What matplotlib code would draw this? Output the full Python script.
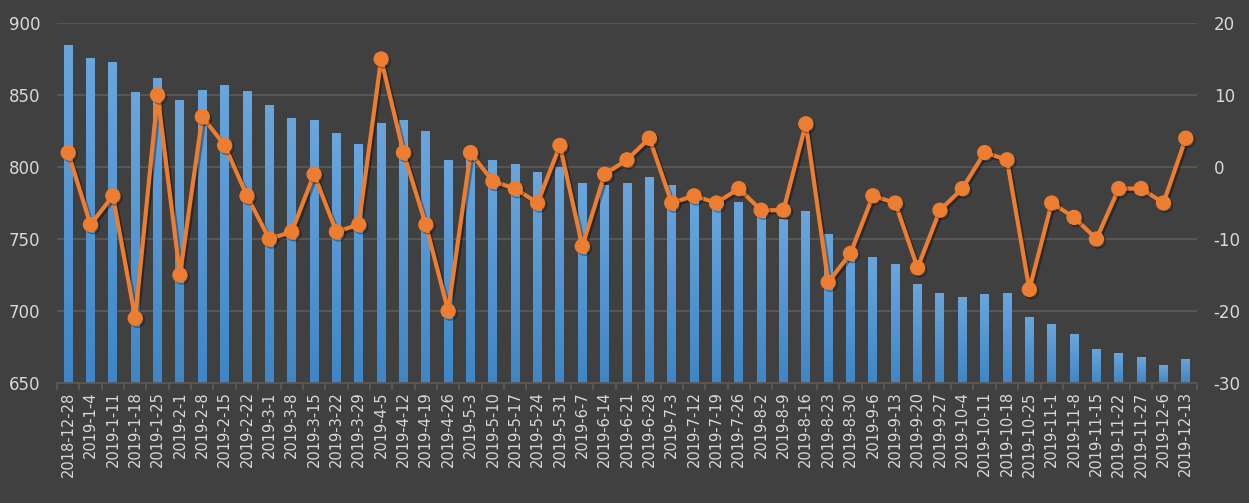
import matplotlib
matplotlib.use("Agg")
import matplotlib.pyplot as plt
import numpy as np
from matplotlib import patheffects as pe
from matplotlib.colors import LinearSegmentedColormap

plt.rcParams["axes.unicode_minus"] = False

dates = ["2018-12-28", "2019-1-4", "2019-1-11", "2019-1-18", "2019-1-25", "2019-2-1",
         "2019-2-8", "2019-2-15", "2019-2-22", "2019-3-1", "2019-3-8", "2019-3-15",
         "2019-3-22", "2019-3-29", "2019-4-5", "2019-4-12", "2019-4-19", "2019-4-26",
         "2019-5-3", "2019-5-10", "2019-5-17", "2019-5-24", "2019-5-31", "2019-6-7",
         "2019-6-14", "2019-6-21", "2019-6-28", "2019-7-3", "2019-7-12", "2019-7-19",
         "2019-7-26", "2019-8-2", "2019-8-9", "2019-8-16", "2019-8-23", "2019-8-30",
         "2019-9-6", "2019-9-13", "2019-9-20", "2019-9-27", "2019-10-4", "2019-10-11",
         "2019-10-18", "2019-10-25", "2019-11-1", "2019-11-8", "2019-11-15", "2019-11-22",
         "2019-11-27", "2019-12-6", "2019-12-13"]

bar_values = [885, 876, 873, 852, 862, 846.5, 853.5, 857, 852.8, 843, 834, 832.6,
              823.6, 816, 830.6, 832.6, 825, 805, 808, 805, 802, 796.5, 800, 789,
              787.5, 789, 793, 787.5, 780, 777, 775.7, 770, 764, 769.4, 753.5, 743,
              737.5, 732.6, 718.7, 712.5, 709.7, 711.8, 712.5, 695.8, 691, 684, 673.6,
              670.8, 668, 662.5, 666.7]

line_values = [2, -8, -4, -21, 10, -15, 7, 3, -4, -10, -9, -1, -9, -8, 15, 2, -8, -20,
               2, -2, -3, -5, 3, -11, -1, 1, 4, -5, -4, -5, -3, -6, -6, 6, -16, -12,
               -4, -5, -14, -6, -3, 2, 1, -17, -5, -7, -10, -3, -3, -5, 4]

bg = "#404040"
grid_c = "#595959"
text_c = "#d9d9d9"

fig = plt.figure(figsize=(12.49, 5.03), dpi=100, facecolor=bg)
ax = fig.add_axes([57 / 1249, 1 - 383 / 503, (1197 - 57) / 1249, (383 - 23) / 503])
ax.set_facecolor(bg)
x = np.arange(len(dates))

bars = ax.bar(x, bar_values, width=0.4, color="#5b9bd5", zorder=2)
grad = np.linspace(0, 1, 256).reshape(-1, 1)
cmap = LinearSegmentedColormap.from_list("b", ["#3f86c6", "#6aa6dd"])
for b in bars:
    im = ax.imshow(grad, cmap=cmap, aspect="auto", origin="lower",
                   extent=[b.get_x(), b.get_x() + b.get_width(), 650, b.get_height()],
                   zorder=2)
    im.set_clip_path(b)

ax.set_xlim(-0.5, len(dates) - 0.5)
ax.set_ylim(650, 900)
ax.set_yticks([650, 700, 750, 800, 850, 900])
ax.yaxis.grid(True, color=grid_c, linewidth=1.3, zorder=0)
ax.set_axisbelow(True)
for s in ["top", "right", "left"]:
    ax.spines[s].set_visible(False)
ax.spines["bottom"].set_color(grid_c)
ax.spines["bottom"].set_linewidth(1.3)
ax.set_xticks(x)
ax.set_xticklabels(dates, rotation=90, color=text_c, fontsize=10.5)
ax.set_xticks(np.arange(-0.5, len(dates), 1), minor=True)
ax.tick_params(axis="x", which="major", length=0, pad=6)
ax.tick_params(axis="x", which="minor", length=5, color=grid_c, width=1.3)
ax.tick_params(axis="y", length=0, labelcolor=text_c, labelsize=12, pad=12)

ax2 = ax.twinx()
ax2.set_ylim(-30, 20)
ax2.set_yticks([-30, -20, -10, 0, 10, 20])
for s in ax2.spines.values():
    s.set_visible(False)
ax2.tick_params(axis="y", length=0, labelcolor=text_c, labelsize=12, pad=12)
ax2.plot(x, line_values, color="#ed7d31", linewidth=3, marker="o", markersize=10,
         markeredgecolor="#ed7d31", zorder=3,
         path_effects=[pe.SimpleLineShadow(offset=(1.5, -1.5), alpha=0.35), pe.Normal()])

fig.savefig("out.png", dpi=100, facecolor=bg)
